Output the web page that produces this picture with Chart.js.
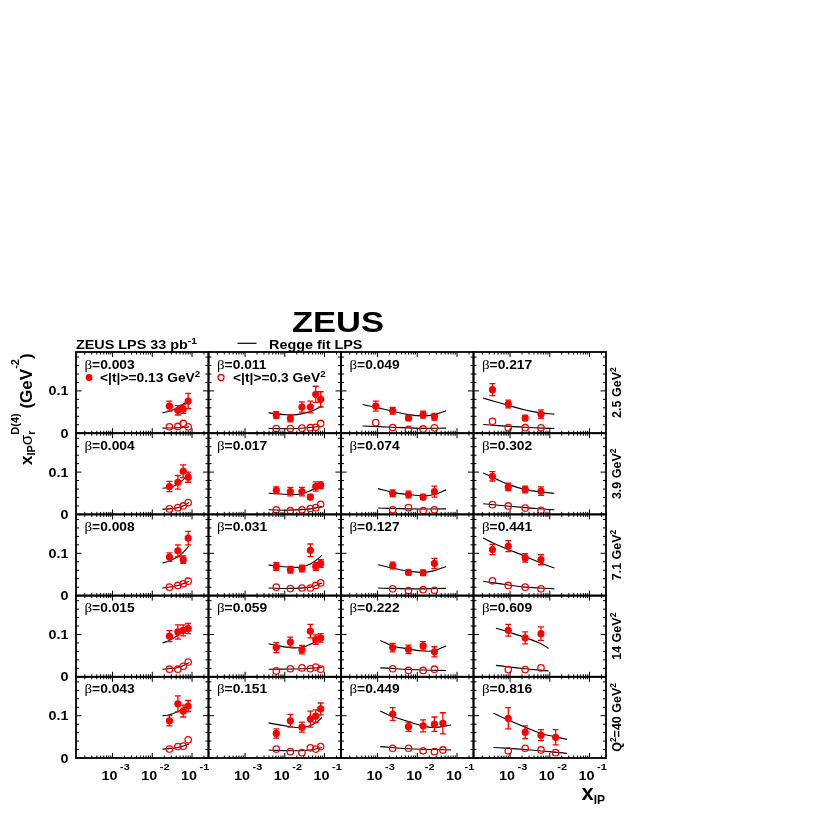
<!DOCTYPE html>
<html>
<head>
<meta charset="utf-8">
<script src="https://cdn.jsdelivr.net/npm/chart.js@4.4.1/dist/chart.umd.min.js"></script>
<style>
  html, body { margin: 0; padding: 0; background: #fff; }
  canvas { display: block; }
</style>
</head>
<body>
<canvas id="zeusChart" width="817" height="817"></canvas>
<script>
// rows = Q^2 bins (top to bottom), columns = beta bins (left to right)
const qSq = ['2.5', '3.9', '7.1', '14', '40'];
const betas = [
  ['0.003', '0.011', '0.049', '0.217'],
  ['0.004', '0.017', '0.074', '0.302'],
  ['0.008', '0.031', '0.127', '0.441'],
  ['0.015', '0.059', '0.222', '0.609'],
  ['0.043', '0.151', '0.449', '0.816']
];

const c1 = [0.027, 0.044, 0.06, 0.08];
const c2 = [0.0061, 0.0138, 0.027, 0.044, 0.06, 0.08];
const xBins = [
  [c1, c2, [0.0009, 0.0024, 0.006, 0.014, 0.027], [0.00036, 0.0009, 0.0024, 0.006]],
  [c1, c2, [0.0024, 0.006, 0.014, 0.027], [0.00036, 0.0009, 0.0024, 0.006]],
  [c1, c2, [0.0024, 0.006, 0.014, 0.027], [0.00036, 0.0009, 0.0024, 0.006]],
  [c1, c2, [0.0024, 0.006, 0.014, 0.027], [0.0009, 0.0024, 0.006]],
  [c1, c2, [0.0024, 0.006, 0.014, 0.027, 0.044], [0.0009, 0.0024, 0.006, 0.014]]
];

// <|t|> = 0.13 GeV^2 (full dots)
const sigSmallT = [
  [[0.064, 0.054, 0.057, 0.076], [0.043, 0.035, 0.062, 0.062, 0.092, 0.080], [0.064, 0.053, 0.036, 0.044, 0.039], [0.103, 0.069, 0.036, 0.045]],
  [[0.066, 0.076, 0.102, 0.088], [0.057, 0.054, 0.054, 0.041, 0.066, 0.069], [0.050, 0.047, 0.041, 0.054], [0.090, 0.065, 0.059, 0.055]],
  [[0.091, 0.106, 0.085, 0.136], [0.069, 0.061, 0.064, 0.107, 0.069, 0.076], [0.071, 0.055, 0.054, 0.076], [0.109, 0.117, 0.089, 0.085]],
  [[0.096, 0.106, 0.110, 0.114], [0.069, 0.082, 0.064, 0.108, 0.088, 0.092], [0.069, 0.065, 0.073, 0.059], [0.110, 0.092, 0.102]],
  [[0.088, 0.128, 0.111, 0.123], [0.058, 0.088, 0.073, 0.092, 0.099, 0.116], [0.104, 0.074, 0.076, 0.080, 0.082], [0.094, 0.061, 0.054, 0.049]]
];
const errSmallT = [
  [[0.012, 0.011, 0.010, 0.018], [0.008, 0.008, 0.012, 0.014, 0.019, 0.018], [0.012, 0.008, 0.006, 0.008, 0.008], [0.014, 0.009, 0.006, 0.010]],
  [[0.012, 0.016, 0.015, 0.012], [0.008, 0.010, 0.010, 0.006, 0.011, 0.008], [0.008, 0.008, 0.006, 0.013], [0.011, 0.009, 0.008, 0.010]],
  [[0.010, 0.014, 0.009, 0.016], [0.009, 0.008, 0.008, 0.015, 0.009, 0.009], [0.008, 0.006, 0.007, 0.012], [0.012, 0.013, 0.010, 0.012]],
  [[0.013, 0.017, 0.013, 0.012], [0.012, 0.012, 0.010, 0.016, 0.011, 0.010], [0.010, 0.010, 0.010, 0.012], [0.014, 0.014, 0.016]],
  [[0.012, 0.019, 0.014, 0.013], [0.011, 0.015, 0.012, 0.019, 0.015, 0.014], [0.015, 0.011, 0.014, 0.017, 0.025], [0.025, 0.015, 0.013, 0.018]]
];

// <|t|> = 0.3 GeV^2 (open dots)
const sigLargeT = [
  [[0.015, 0.016, 0.023, 0.015], [0.011, 0.011, 0.012, 0.013, 0.014, 0.023], [0.025, 0.0135, 0.009, 0.010, 0.0126], [0.028, 0.013, 0.013, 0.0126]],
  [[0.013, 0.016, 0.020, 0.028], [0.011, 0.0087, 0.011, 0.014, 0.016, 0.024], [0.011, 0.016, 0.0087, 0.011], [0.023, 0.020, 0.015, 0.0095]],
  [[0.020, 0.024, 0.028, 0.034], [0.020, 0.0165, 0.018, 0.018, 0.024, 0.030], [0.016, 0.012, 0.014, 0.0126], [0.035, 0.024, 0.020, 0.016]],
  [[0.018, 0.018, 0.025, 0.035], [0.014, 0.019, 0.021, 0.019, 0.023, 0.018], [0.019, 0.015, 0.015, 0.018], [0.017, 0.017, 0.021]],
  [[0.021, 0.027, 0.028, 0.043], [0.021, 0.015, 0.0126, 0.024, 0.021, 0.027], [0.023, 0.023, 0.017, 0.015, 0.019], [0.017, 0.023, 0.019, 0.0126]]
];

// Regge fit curves
const f1 = [0.018, 0.027, 0.044, 0.06, 0.085];
const f2 = [0.0039, 0.0138, 0.027, 0.044, 0.06, 0.0865];
const f4 = [0.00021, 0.00036, 0.0009, 0.0024, 0.006, 0.013];
const fitSmallX = [
  [f1, [0.0039, 0.01, 0.02, 0.044, 0.0865], [0.00042, 0.0009, 0.0024, 0.006, 0.014, 0.027, 0.053], [0.00021, 0.0009, 0.0024, 0.006, 0.013]],
  [f1, f2, [0.00103, 0.0024, 0.006, 0.014, 0.027, 0.053], f4],
  [f1, f2, [0.00103, 0.0024, 0.006, 0.014, 0.027, 0.053], f4],
  [f1, f2, [0.00117, 0.0024, 0.006, 0.014, 0.027, 0.053], [0.00044, 0.0009, 0.0024, 0.006, 0.0093]],
  [f1, f2, [0.00117, 0.0024, 0.006, 0.014, 0.027, 0.071], [0.00038, 0.0009, 0.0024, 0.006, 0.014, 0.027]]
];
const fitSmallT = [
  [[0.048, 0.052, 0.060, 0.068, 0.080], [0.048, 0.044, 0.044, 0.051, 0.064], [0.068, 0.061, 0.052, 0.044, 0.041, 0.044, 0.053], [0.083, 0.066, 0.055, 0.048, 0.045]],
  [[0.062, 0.064, 0.072, 0.082, 0.098], [0.050, 0.047, 0.049, 0.056, 0.063, 0.075], [0.061, 0.052, 0.047, 0.044, 0.047, 0.058], [0.098, 0.088, 0.071, 0.059, 0.053, 0.050]],
  [[0.077, 0.082, 0.092, 0.102, 0.118], [0.072, 0.067, 0.068, 0.075, 0.083, 0.095], [0.073, 0.065, 0.058, 0.055, 0.059, 0.069], [0.136, 0.125, 0.109, 0.093, 0.077, 0.065]],
  [[0.080, 0.086, 0.098, 0.108, 0.122], [0.078, 0.069, 0.070, 0.077, 0.084, 0.094], [0.086, 0.073, 0.066, 0.061, 0.062, 0.073], [0.115, 0.106, 0.093, 0.078, 0.067]],
  [[0.100, 0.102, 0.110, 0.118, 0.128], [0.083, 0.074, 0.072, 0.077, 0.083, 0.096], [0.111, 0.098, 0.086, 0.076, 0.072, 0.078], [0.106, 0.090, 0.073, 0.058, 0.050, 0.044]]
];
const fitLargeX = [
  [[0.018, 0.044, 0.085], [0.0039, 0.02, 0.0865], [0.00042, 0.0024, 0.014, 0.053], [0.00021, 0.0024, 0.013]],
  [f1, [0.0039, 0.0138, 0.044, 0.0865], [0.00103, 0.006, 0.053], [0.00021, 0.0024, 0.013]],
  [[0.018, 0.044, 0.085], [0.0039, 0.0138, 0.044, 0.0865], [0.00103, 0.006, 0.053], [0.00021, 0.0009, 0.0024, 0.013]],
  [[0.018, 0.044, 0.085], [0.0039, 0.027, 0.0865], [0.00117, 0.014, 0.053], [0.00044, 0.0024, 0.0093]],
  [[0.018, 0.044, 0.085], [0.0039, 0.0138, 0.044, 0.0865], [0.00117, 0.006, 0.071], [0.00038, 0.0024, 0.027]]
];
const fitLargeT = [
  [[0.012, 0.013, 0.015], [0.011, 0.011, 0.016], [0.017, 0.014, 0.0115, 0.012], [0.0205, 0.014, 0.011]],
  [[0.0125, 0.013, 0.016, 0.020, 0.028], [0.011, 0.010, 0.013, 0.019], [0.015, 0.013, 0.013], [0.025, 0.016, 0.011]],
  [[0.018, 0.024, 0.034], [0.018, 0.017, 0.020, 0.030], [0.018, 0.016, 0.017], [0.034, 0.025, 0.020, 0.016]],
  [[0.018, 0.022, 0.033], [0.018, 0.019, 0.022], [0.021, 0.016, 0.015], [0.027, 0.019, 0.014]],
  [[0.021, 0.025, 0.033], [0.019, 0.017, 0.019, 0.025], [0.027, 0.022, 0.019], [0.025, 0.020, 0.011]]
];

const RED = '#ff0000';
const SANS = '"Liberation Sans", Arial, sans-serif';
const SX = 1.15; // the original lettering is a bit wide
function bold(size) { return 'bold ' + size + 'px ' + SANS; }

function pts(xs, ys) {
  return xs.map((x, i) => ({ x: x, y: ys[i] }));
}

// build scales: 4 stacked x axes (columns), 5 stacked y axes (rows)
const scales = {};
for (let c = 0; c < 4; c++) {
  scales['x' + c] = {
    type: 'logarithmic', position: 'bottom', stack: 'cols', weight: c,
    min: 1.2e-4, max: 0.26,
    grid: { display: false, drawTicks: false }, border: { display: false },
    ticks: { display: false },
    afterFit: s => { s.height = 59; }
  };
}
for (let r = 0; r < 5; r++) {
  scales['y' + r] = {
    type: 'linear', position: 'left', stack: 'rows', weight: 10 - r,
    min: 0, max: 0.192,
    grid: { display: false, drawTicks: false }, border: { display: false },
    ticks: { display: false },
    afterFit: s => { s.width = 76; }
  };
}

const datasets = [];
for (let r = 0; r < 5; r++) {
  for (let c = 0; c < 4; c++) {
    const ax = { xAxisID: 'x' + c, yAxisID: 'y' + r };
    datasets.push(Object.assign({
      label: 'small t ' + qSq[r] + ' ' + betas[r][c],
      data: pts(xBins[r][c], sigSmallT[r][c]),
      errs: errSmallT[r][c],
      pointRadius: 3.6, pointHoverRadius: 3.6,
      pointBackgroundColor: RED, pointBorderColor: RED, pointBorderWidth: 0
    }, ax));
    datasets.push(Object.assign({
      label: 'large t ' + qSq[r] + ' ' + betas[r][c],
      data: pts(xBins[r][c], sigLargeT[r][c]),
      pointRadius: 3.2, pointHoverRadius: 3.2,
      pointBackgroundColor: 'rgba(0,0,0,0)', pointBorderColor: RED, pointBorderWidth: 1.3
    }, ax));
    datasets.push(Object.assign({
      label: 'fit small t',
      data: pts(fitSmallX[r][c], fitSmallT[r][c]),
      showLine: true, pointRadius: 0, borderColor: '#000', borderWidth: 1.1, tension: 0.4, fill: false
    }, ax));
    datasets.push(Object.assign({
      label: 'fit large t',
      data: pts(fitLargeX[r][c], fitLargeT[r][c]),
      showLine: true, pointRadius: 0, borderColor: '#000', borderWidth: 1.1, tension: 0.4, fill: false
    }, ax));
  }
}

function richText(ctx, parts, x, y, align) {
  const ws = parts.map(p => { ctx.font = p.f; return ctx.measureText(p.t).width; });
  let total = 0;
  parts.forEach((p, i) => { if (!p.stay) total += ws[i]; });
  let cx = align === 'center' ? x - total / 2 : (align === 'right' ? x - total : x);
  ctx.textAlign = 'left';
  ctx.textBaseline = 'alphabetic';
  parts.forEach((p, i) => {
    ctx.font = p.f;
    ctx.fillText(p.t, cx, y + (p.dy || 0));
    if (!p.stay) cx += ws[i];
  });
}
function wideText(ctx, parts, x, y, align) {
  ctx.save();
  ctx.translate(x, y);
  ctx.scale(SX, 1);
  richText(ctx, parts, 0, 0, align);
  ctx.restore();
}

const errorBars = {
  id: 'errorBars',
  afterDatasetsDraw(chart) {
    const ctx = chart.ctx;
    ctx.save();
    ctx.strokeStyle = RED;
    ctx.lineWidth = 1.3;
    chart.data.datasets.forEach((ds, i) => {
      if (!ds.errs) return;
      const yScale = chart.scales[ds.yAxisID];
      chart.getDatasetMeta(i).data.forEach((el, j) => {
        const v = ds.data[j].y, e = ds.errs[j];
        const y1 = yScale.getPixelForValue(v + e), y2 = yScale.getPixelForValue(v - e);
        ctx.beginPath();
        ctx.moveTo(el.x, y1); ctx.lineTo(el.x, y2);
        ctx.moveTo(el.x - 3, y1); ctx.lineTo(el.x + 3, y1);
        ctx.moveTo(el.x - 3, y2); ctx.lineTo(el.x + 3, y2);
        ctx.stroke();
      });
    });
    ctx.restore();
  }
};

const panelFrames = {
  id: 'panelFrames',
  afterDraw(chart) {
    const ctx = chart.ctx;
    ctx.save();
    ctx.fillStyle = '#000';
    ctx.strokeStyle = '#000';
    for (let r = 0; r < 5; r++) {
      const ys = chart.scales['y' + r];
      for (let c = 0; c < 4; c++) {
        const xs = chart.scales['x' + c];
        ctx.lineWidth = 1.8;
        ctx.strokeRect(xs.left, ys.top, xs.right - xs.left, ys.bottom - ys.top);
        ctx.lineWidth = 1;
        ctx.beginPath();
        for (let e = -5; e <= 0; e++) {
          for (let k = 1; k < 10; k++) {
            const v = k * Math.pow(10, e);
            if (v < xs.min || v > xs.max) continue;
            const px = xs.getPixelForValue(v);
            const len = k === 1 ? 5 : 2.5;
            ctx.moveTo(px, ys.bottom); ctx.lineTo(px, ys.bottom - len);
            ctx.moveTo(px, ys.top); ctx.lineTo(px, ys.top + len);
          }
        }
        for (let i = 0; i <= 9; i++) {
          const py = ys.getPixelForValue(i * 0.02);
          const len = (i === 0 || i === 5) ? 5.5 : 3;
          ctx.moveTo(xs.left, py); ctx.lineTo(xs.left + len, py);
          ctx.moveTo(xs.right, py); ctx.lineTo(xs.right - len, py);
        }
        ctx.stroke();

        // beta label
        wideText(ctx, [{ t: 'β', f: '13px "Liberation Serif", serif' }, { t: '=' + betas[r][c], f: bold(12) }],
          xs.left + 8.5, ys.top + 16.5, 'left');
      }
    }

    // legend inside the first two panels
    const p0x = chart.scales.x0, p1x = chart.scales.x1, p0y = chart.scales.y0;
    ctx.fillStyle = RED;
    ctx.beginPath(); ctx.arc(p0x.left + 13, p0y.top + 25.5, 3.4, 0, Math.PI * 2); ctx.fill();
    ctx.strokeStyle = RED; ctx.lineWidth = 1.3;
    ctx.beginPath(); ctx.arc(p1x.left + 12.5, p0y.top + 25.5, 3, 0, Math.PI * 2); ctx.stroke();
    ctx.fillStyle = '#000';
    wideText(ctx, [{ t: '<|t|>=0.13 GeV', f: bold(12) }, { t: '2', f: bold(8.5), dy: -5 }], p0x.left + 24, p0y.top + 30, 'left');
    wideText(ctx, [{ t: '<|t|>=0.3 GeV', f: bold(12) }, { t: '2', f: bold(8.5), dy: -5 }], p1x.left + 24.5, p0y.top + 30, 'left');

    // y tick labels
    const x0 = chart.scales.x0;
    for (let r = 0; r < 5; r++) {
      const ys = chart.scales['y' + r];
      wideText(ctx, [{ t: '0', f: bold(12.5) }], x0.left - 7.5, ys.getPixelForValue(0) + 4.5, 'right');
      wideText(ctx, [{ t: '0.1', f: bold(12.5) }], x0.left - 7.5, ys.getPixelForValue(0.1) + 4.5, 'right');
    }
    // x tick labels
    const yb = chart.scales.y4.bottom;
    for (let c = 0; c < 4; c++) {
      const xs = chart.scales['x' + c];
      [-3, -2, -1].forEach(k => {
        const px = xs.getPixelForValue(Math.pow(10, k));
        wideText(ctx, [{ t: '10', f: bold(12.5) }], px + 5, yb + 21.5, 'right');
        wideText(ctx, [{ t: String(k), f: bold(9.5) }], px + 7.5, yb + 11.5, 'left');
      });
    }

    // Q^2 labels on the right
    const xr = chart.scales.x3.right;
    for (let r = 0; r < 5; r++) {
      const ys = chart.scales['y' + r];
      const parts = r === 4
        ? [{ t: 'Q', f: bold(12.5) }, { t: '2', f: bold(8.5), dy: -5 }, { t: '=' + qSq[r] + ' GeV', f: bold(12.5) }, { t: '2', f: bold(8.5), dy: -5 }]
        : [{ t: qSq[r] + ' GeV', f: bold(12.5) }, { t: '2', f: bold(8.5), dy: -5 }];
      ctx.save();
      ctx.translate(xr + 14.5, (ys.top + ys.bottom) / 2);
      ctx.rotate(-Math.PI / 2);
      richText(ctx, parts, 0, 0, 'center');
      ctx.restore();
    }

    // header
    const top = chart.scales.y0.top;
    wideText(ctx, [{ t: 'ZEUS', f: bold(30) }], 292, top - 20, 'left');
    wideText(ctx, [{ t: 'ZEUS LPS 33 pb', f: bold(12.5) }, { t: '-1', f: bold(9), dy: -5 }], x0.left, top - 3.5, 'left');
    ctx.strokeStyle = '#000'; ctx.lineWidth = 1.2;
    ctx.beginPath(); ctx.moveTo(237.5, top - 8.7); ctx.lineTo(256.5, top - 8.7); ctx.stroke();
    wideText(ctx, [{ t: 'Regge fit LPS', f: bold(12.5) }], 269, top - 3.5, 'left');

    // y axis title
    ctx.save();
    ctx.translate(31.5, 465);
    ctx.rotate(-Math.PI / 2);
    richText(ctx, [
      { t: 'x', f: bold(17) },
      { t: 'IP', f: bold(11), dy: 3.5 },
      { t: 'σ', f: '17px ' + SANS },
      { t: 'r', f: bold(11), dy: 3.5, stay: true },
      { t: 'D(4)', f: bold(11), dy: -13 },
      { t: ' (GeV', f: bold(17) },
      { t: '-2', f: bold(11), dy: -13 },
      { t: ')', f: bold(17) }
    ], 0, 0, 'left');
    ctx.restore();

    // x axis title
    richText(ctx, [{ t: 'x', f: bold(22) }, { t: 'IP', f: bold(12), dy: 3.5 }], 581.5, 800, 'left');
    ctx.restore();
  }
};

new Chart(document.getElementById('zeusChart'), {
  type: 'scatter',
  data: { datasets: datasets },
  options: {
    responsive: false,
    animation: false,
    devicePixelRatio: 1,
    layout: { padding: { top: 352, right: 211, bottom: 0, left: 0 } },
    scales: scales,
    plugins: { legend: { display: false }, tooltip: { enabled: false } }
  },
  plugins: [errorBars, panelFrames]
});
</script>
</body>
</html>
